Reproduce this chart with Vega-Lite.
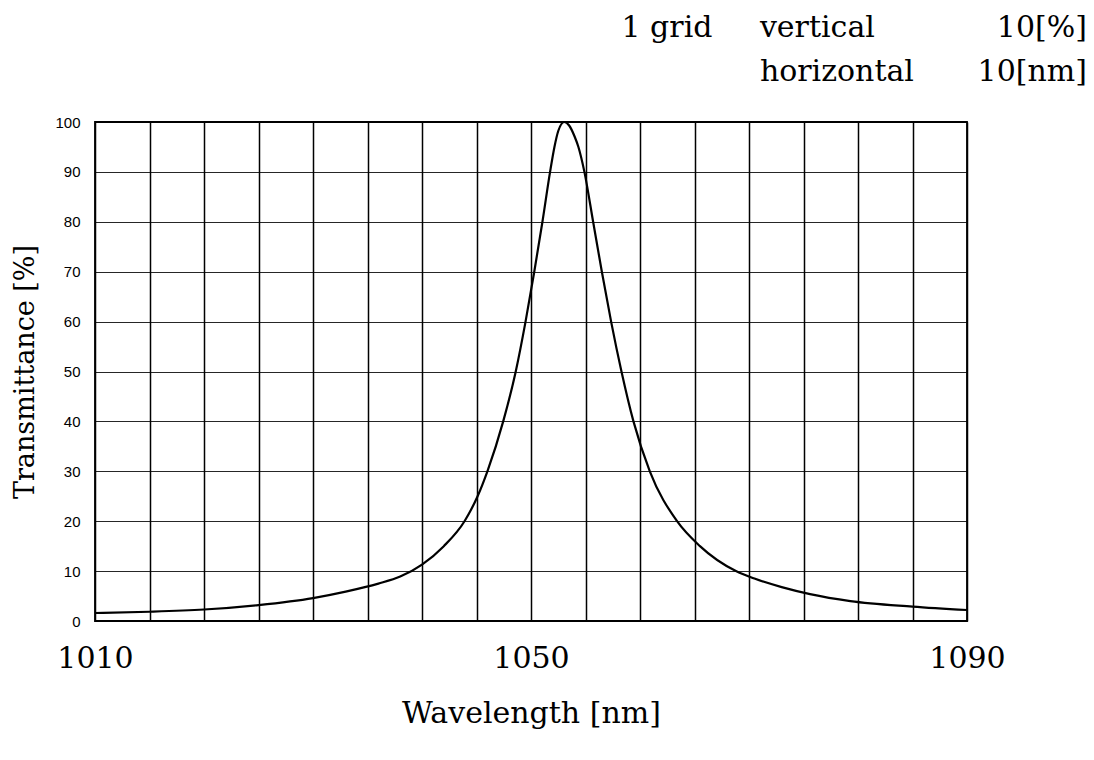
{
  "$schema": "https://vega.github.io/schema/vega-lite/v6.json",
  "width": 872,
  "height": 499,
  "autosize": {"type": "none"},
  "padding": {"left": 95, "top": 122, "right": 127, "bottom": 139},
  "background": "white",
  "config": {
    "view": {"stroke": "black", "strokeWidth": 1.8},
    "font": "DejaVu Serif"
  },
  "datasets": {
    "curve": [
      {"wl": 1010, "t": 1.6},
      {"wl": 1015, "t": 1.85},
      {"wl": 1020, "t": 2.3},
      {"wl": 1025, "t": 3.2},
      {"wl": 1030, "t": 4.6},
      {"wl": 1033, "t": 5.9},
      {"wl": 1036, "t": 7.5},
      {"wl": 1038, "t": 8.9},
      {"wl": 1040, "t": 11.3},
      {"wl": 1042, "t": 15.0},
      {"wl": 1043.9, "t": 20},
      {"wl": 1045.1, "t": 25},
      {"wl": 1046.0, "t": 30},
      {"wl": 1047.45, "t": 40},
      {"wl": 1048.6, "t": 50},
      {"wl": 1049.5, "t": 60},
      {"wl": 1050.3, "t": 70},
      {"wl": 1051.05, "t": 80},
      {"wl": 1051.75, "t": 90},
      {"wl": 1052.15, "t": 95},
      {"wl": 1052.5, "t": 98.2},
      {"wl": 1053.05, "t": 100},
      {"wl": 1053.5, "t": 99.3},
      {"wl": 1054.0, "t": 97.1},
      {"wl": 1054.35, "t": 95},
      {"wl": 1054.9, "t": 90},
      {"wl": 1055.7, "t": 80},
      {"wl": 1056.5, "t": 70},
      {"wl": 1057.35, "t": 60},
      {"wl": 1058.3, "t": 50},
      {"wl": 1059.4, "t": 40},
      {"wl": 1060.9, "t": 30},
      {"wl": 1063.4, "t": 20},
      {"wl": 1065.5, "t": 15},
      {"wl": 1068.8, "t": 10},
      {"wl": 1070.5, "t": 8.5},
      {"wl": 1073, "t": 6.8},
      {"wl": 1075.6, "t": 5.4},
      {"wl": 1079.3, "t": 4.0},
      {"wl": 1085, "t": 2.9},
      {"wl": 1090, "t": 2.2}
    ],
    "notesLeft": [
      {"wl": 1058.3, "t": 118.8, "label": "1 grid"},
      {"wl": 1071.0, "t": 118.8, "label": "vertical"},
      {"wl": 1071.0, "t": 110.0, "label": "horizontal"}
    ],
    "notesRight": [
      {"wl": 1101.0, "t": 118.8, "label": "10[%]"},
      {"wl": 1101.0, "t": 110.0, "label": "10[nm]"}
    ]
  },
  "layer": [
    {
      "data": {"name": "curve"},
      "mark": {"type": "line", "color": "black", "strokeWidth": 2.2, "interpolate": "monotone"},
      "encoding": {
        "x": {
          "field": "wl", "type": "quantitative",
          "scale": {"domain": [1010, 1090], "nice": false, "zero": false},
          "axis": {
            "values": [1010, 1015, 1020, 1025, 1030, 1035, 1040, 1045, 1050, 1055, 1060, 1065, 1070, 1075, 1080, 1085, 1090],
            "format": "d",
            "labelExpr": "datum.value % 40 == 10 ? datum.label : ''",
            "grid": true, "gridColor": "black", "gridWidth": 1.5, "gridOpacity": 1,
            "ticks": false, "tickSize": 0, "domain": false,
            "labelFont": "DejaVu Serif", "labelFontSize": 30, "labelColor": "black",
            "labelPadding": 22, "labelFlush": false, "labelOverlap": false,
            "title": "Wavelength [nm]", "titleFont": "DejaVu Serif", "titleFontSize": 30,
            "titleFontWeight": "normal", "titleColor": "black", "titlePadding": 25
          }
        },
        "y": {
          "field": "t", "type": "quantitative",
          "scale": {"domain": [0, 100], "nice": false},
          "axis": {
            "values": [0, 10, 20, 30, 40, 50, 60, 70, 80, 90, 100],
            "grid": true, "gridColor": "black", "gridWidth": 1.2, "gridOpacity": 0.85,
            "ticks": false, "tickSize": 0, "domain": false,
            "labelFont": "Liberation Sans", "labelFontSize": 15, "labelColor": "black",
            "labelPadding": 15, "labelFlush": false,
            "title": "Transmittance [%]", "titleFont": "DejaVu Serif", "titleFontSize": 27,
            "titleFontWeight": "normal", "titleColor": "black", "titlePadding": 15
          }
        }
      }
    },
    {
      "data": {"name": "notesLeft"},
      "mark": {"type": "text", "align": "left", "baseline": "middle", "font": "DejaVu Serif", "fontSize": 30, "color": "black"},
      "encoding": {
        "x": {"field": "wl", "type": "quantitative"},
        "y": {"field": "t", "type": "quantitative"},
        "text": {"field": "label"}
      }
    },
    {
      "data": {"name": "notesRight"},
      "mark": {"type": "text", "align": "right", "baseline": "middle", "font": "DejaVu Serif", "fontSize": 30, "color": "black"},
      "encoding": {
        "x": {"field": "wl", "type": "quantitative"},
        "y": {"field": "t", "type": "quantitative"},
        "text": {"field": "label"}
      }
    }
  ]
}
